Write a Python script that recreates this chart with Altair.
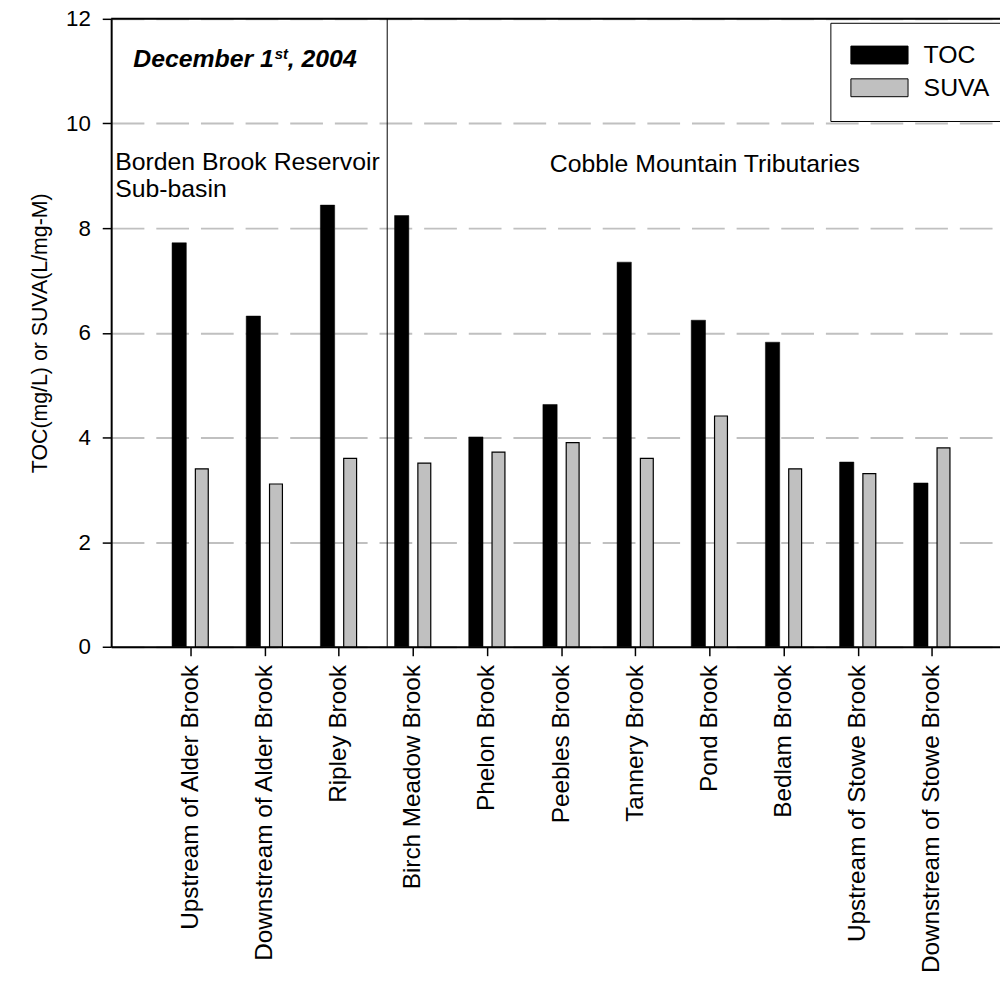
import json
import altair as alt
import pandas as pd

# ---------------- data ----------------
sites = [
    "Upstream of Alder Brook",
    "Downstream of Alder Brook",
    "Ripley Brook",
    "Birch Meadow Brook",
    "Phelon Brook",
    "Peebles Brook",
    "Tannery Brook",
    "Pond Brook",
    "Bedlam Brook",
    "Upstream of Stowe Brook",
    "Downstream of Stowe Brook",
]
site_pos = [1, 2, 3, 4, 5, 6, 7, 8, 9, 10, 11]
toc = [7.72, 6.32, 8.44, 8.24, 4.01, 4.63, 7.35, 6.24, 5.82, 3.53, 3.13]
suva = [3.40, 3.11, 3.60, 3.51, 3.72, 3.90, 3.60, 4.41, 3.40, 3.31, 3.80]
series_names = ["TOC", "SUVA"]
series_colors = ["#000000", "#c0c0c0"]
y_ticks = [0, 2, 4, 6, 8, 10, 12]
divider_pos = [3.655]
date_parts = ["December 1", "st", ", 2004"]
group_left = ["Borden Brook Reservoir", "Sub-basin"]
group_right = ["Cobble Mountain Tributaries"]
y_title = "TOC(mg/L) or SUVA(L/mg-M)"

FONT = "Liberation Sans"
W, H = 896, 633

rows = []
for p, s, t, v in zip(site_pos, sites, toc, suva):
    rows.append({"pos": p, "site": s, "series": "TOC", "value": t})
    rows.append({"pos": p, "site": s, "series": "SUVA", "value": v})
df = pd.DataFrame(rows)

x_scale = alt.Scale(domain=[0, 11.85], nice=False, zero=False)
y_scale = alt.Scale(domain=[0, 12], nice=False)

x_axis = alt.Axis(
    values=site_pos,
    labelExpr=f"{json.dumps(sites)}[datum.value - 1]",
    labelAngle=270,
    labelFontSize=24.5,
    labelFont=FONT,
    labelColor="black",
    labelPadding=9,
    labelLimit=500,
    labelOverlap=False,
    tickSize=9,
    tickColor="black",
    tickWidth=1.5,
    domainColor="black",
    domainWidth=2,
    grid=False,
    title=None,
)
y_axis = alt.Axis(
    values=y_ticks,
    format="d",
    labelFontSize=22.5,
    labelFont=FONT,
    labelColor="black",
    labelPadding=12,
    tickSize=9,
    tickColor="black",
    tickWidth=1.5,
    domainColor="black",
    domainWidth=2,
    grid=True,
    gridDash=[33, 12],
    gridColor="#c0c0c0",
    gridWidth=2,
    title=y_title,
    titleFont=FONT,
    titleFontSize=21.5,
    titleFontWeight="normal",
    titleColor="black",
    titleX=-60,
    titleY=H / 2,
)

legend = alt.Legend(
    orient="none",
    legendX=725,
    legendY=4,
    title=None,
    padding=20,
    strokeColor="black",
    fillColor="white",
    labelFontSize=25,
    labelFont=FONT,
    labelColor="black",
    symbolType="M-3.2,-1H3.2V1H-3.2Z",
    symbolSize=324,
    symbolOffset=17,
    symbolStrokeColor="black",
    symbolStrokeWidth=1,
    labelOffset=32,
    rowPadding=7,
)
color = alt.Color(
    "series:N",
    scale=alt.Scale(domain=series_names, range=series_colors),
    legend=legend,
)

base = alt.Chart(df).encode(
    x=alt.X("pos:Q", scale=x_scale, axis=x_axis),
    y=alt.Y("value:Q", scale=y_scale, axis=y_axis, stack=None),
    color=color,
)

toc_bars = base.transform_filter(alt.datum.series == "TOC").mark_bar(
    orient="vertical", size=14.4, xOffset=-11.2, stroke="black", strokeWidth=0.5
)
suva_bars = base.transform_filter(alt.datum.series == "SUVA").mark_bar(
    orient="vertical", size=13, xOffset=11.6, stroke="black", strokeWidth=1.2
)

divider = alt.Chart(pd.DataFrame({"x": divider_pos})).mark_rule(
    color="black", strokeWidth=1
).encode(x=alt.X("x:Q", scale=x_scale), y=alt.datum(0), y2=alt.datum(12))

top_border = alt.Chart(pd.DataFrame({"y": [12]})).mark_rule(
    color="black", strokeWidth=2
).encode(y=alt.Y("y:Q", scale=y_scale), x=alt.value(0), x2=alt.value(W))


def label(text, x, y, size=25, align="left", **kw):
    return alt.Chart(pd.DataFrame({"t": [text]})).mark_text(
        font=FONT, fontSize=size, align=align, baseline="alphabetic",
        color="black", **kw
    ).encode(text="t:N", x=alt.value(x), y=alt.value(y))


date_main = label(date_parts[0], 22.3, 48.3, fontWeight="bold", fontStyle="italic")
date_sup = label(date_parts[1], 165, 40, size=15, fontWeight="bold", fontStyle="italic")
date_tail = label(date_parts[2], 178, 48.3, fontWeight="bold", fontStyle="italic")
left_l1 = label(group_left[0], 4, 152)
left_l2 = label(group_left[1], 4, 179.5)
right_lbl = label(group_right[0], 598.5, 154, align="center")

chart = (
    alt.layer(
        toc_bars, suva_bars, divider, top_border,
        date_main, date_sup, date_tail, left_l1, left_l2, right_lbl
    )
    .properties(
        width=W,
        height=H,
        autosize=alt.AutoSizeParams(type="none"),
        padding={"left": 104, "top": 7, "right": 0, "bottom": 330},
        background="white",
    )
    .configure_view(stroke=None)
    .configure(font=FONT)
)

chart.save("out.html", embed_options={"renderer": "svg", "actions": False})
